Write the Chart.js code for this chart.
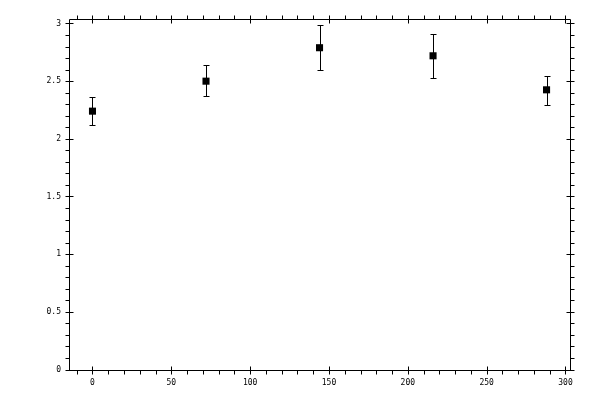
<!DOCTYPE html>
<html>
<head>
<meta charset="utf-8">
<script src="https://cdn.jsdelivr.net/npm/chart.js@4/dist/chart.umd.min.js"></script>
<style>
html,body{margin:0;padding:0;background:#fff;}
#wrap{width:600px;height:400px;}
</style>
</head>
<body>
<div id="wrap"><canvas id="c" width="600" height="400"></canvas></div>
<script>
const xValues = [0, 72, 144, 216, 288];
const yValues = [2.24, 2.50, 2.79, 2.72, 2.425];
const yLower = [2.12, 2.375, 2.60, 2.53, 2.295];
const yUpper = [2.365, 2.64, 2.99, 2.905, 2.545];
const xTickLabels = [0, 50, 100, 150, 200, 250, 300];
const yTickLabels = [0, 0.5, 1, 1.5, 2, 2.5, 3];
const xMinorStep = 10;
const yMinorStep = 0.1;

const points = xValues.map((x, i) => ({x: x, y: yValues[i]}));

const frameTicks = {
  id: 'frameTicks',
  afterDatasetsDraw(chart) {
    const ctx = chart.ctx;
    const xs = chart.scales.x, ys = chart.scales.y;
    const a = chart.chartArea;
    const L = a.left + 0.5, R = a.right - 0.5, T = a.top + 0.5, B = a.bottom - 0.5;
    ctx.save();
    ctx.strokeStyle = '#000';
    ctx.lineWidth = 1;
    // error bars
    const ds = chart.data.datasets[0];
    ctx.beginPath();
    xValues.forEach((x, i) => {
      const px = Math.round(xs.getPixelForValue(x)) + 0.5;
      const pLo = Math.round(ys.getPixelForValue(yLower[i])) + 0.5;
      const pHi = Math.round(ys.getPixelForValue(yUpper[i])) + 0.5;
      ctx.moveTo(px, pLo); ctx.lineTo(px, pHi);
      ctx.moveTo(px - 3, pLo); ctx.lineTo(px + 3, pLo);
      ctx.moveTo(px - 3, pHi); ctx.lineTo(px + 3, pHi);
    });
    ctx.stroke();
    // frame
    ctx.beginPath();
    ctx.rect(L, T, R - L, B - T);
    ctx.stroke();
    ctx.beginPath();
    const xStart = Math.ceil(xs.min / xMinorStep) * xMinorStep;
    for (let v = xStart; v <= xs.max + 1e-9; v += xMinorStep) {
      const vv = Math.round(v * 1000) / 1000;
      const px = Math.round(xs.getPixelForValue(vv)) + 0.5;
      const major = xTickLabels.includes(vv);
      // bottom
      ctx.moveTo(px, B + 4); ctx.lineTo(px, major ? B - 4 : B);
      // top
      ctx.moveTo(px, T - 4); ctx.lineTo(px, major ? T + 4 : T);
    }
    const yStart = Math.ceil(ys.min / yMinorStep) * yMinorStep;
    for (let v = yStart; v <= ys.max + 1e-9; v += yMinorStep) {
      const vv = Math.round(v * 1000) / 1000;
      const py = Math.round(ys.getPixelForValue(vv)) + 0.5;
      const major = yTickLabels.includes(vv);
      ctx.moveTo(L - 4, py); ctx.lineTo(major ? L + 4 : L, py);
      ctx.moveTo(R + 4, py); ctx.lineTo(major ? R - 4 : R, py);
    }
    ctx.stroke();
    ctx.restore();
  }
};

new Chart(document.getElementById('c'), {
  type: 'scatter',
  data: {
    datasets: [{
      data: points,
      pointStyle: 'rect',
      pointRadius: 5,
      pointHoverRadius: 5,
      backgroundColor: '#000',
      borderColor: '#000',
      borderWidth: 0
    }]
  },
  options: {
    responsive: false,
    animation: false,
    events: [],
    layout: {padding: {top: 19, right: 29, left: 0, bottom: 0}},
    plugins: {legend: {display: false}, tooltip: {enabled: false}},
    scales: {
      x: {
        type: 'linear',
        min: -14.9,
        max: 303.5,
        afterFit(s) { s.height = 29; },
        afterBuildTicks(s) { s.ticks = xTickLabels.map(v => ({value: v})); },
        grid: {display: false, drawTicks: false},
        border: {display: false},
        ticks: {
          color: '#000',
          padding: 7,
          maxRotation: 0,
          autoSkip: false,
          font: {family: 'DejaVu Sans Mono', size: 8},
          callback: v => String(v)
        }
      },
      y: {
        type: 'linear',
        min: -0.013,
        max: 3.039,
        afterFit(s) { s.width = 69; },
        afterBuildTicks(s) { s.ticks = yTickLabels.map(v => ({value: v})); },
        grid: {display: false, drawTicks: false},
        border: {display: false},
        ticks: {
          color: '#000',
          padding: 8,
          autoSkip: false,
          font: {family: 'DejaVu Sans Mono', size: 8},
          callback: v => String(v)
        }
      }
    }
  },
  plugins: [frameTicks]
});
</script>
</body>
</html>
